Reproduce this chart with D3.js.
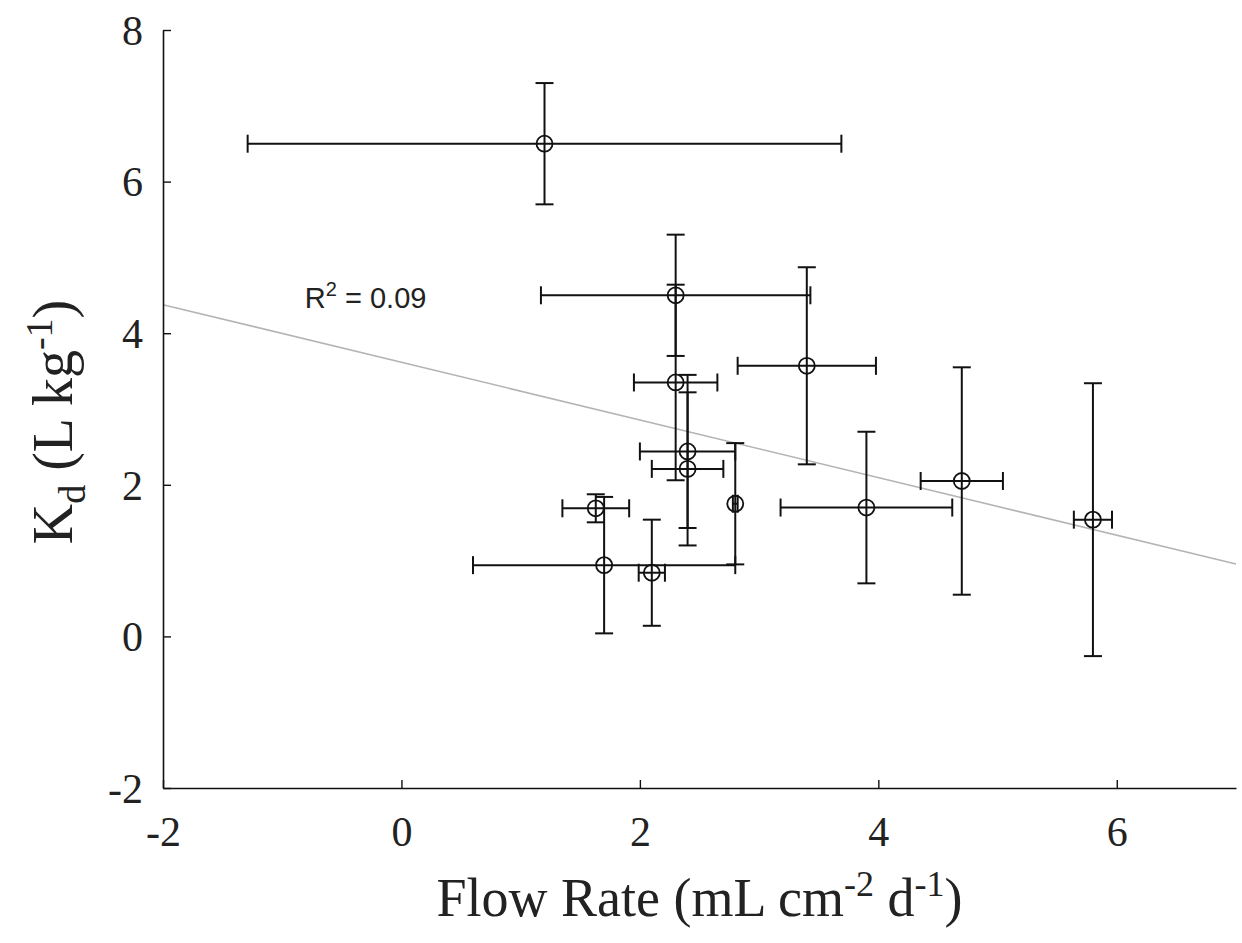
<!DOCTYPE html>
<html>
<head>
<meta charset="UTF-8">
<title>Kd vs Flow Rate</title>
<script src="https://cdn.jsdelivr.net/npm/d3@7"></script>
<style>
  body { margin: 0; background: #fff; }
  .tick text { font-family: "Liberation Serif", "Times New Roman", serif; }
</style>
</head>
<body>
<script>
// flow rate (x), Kd (y) and their error half-widths
var flow    = [1.2, 2.3, 3.4, 2.3, 2.4, 2.4, 1.7, 2.8, 1.63, 2.1, 3.9, 4.7, 5.8];
var kd      = [6.5, 4.5, 3.57, 3.35, 2.44, 2.21, 0.94, 1.75, 1.69, 0.84, 1.7, 2.05, 1.54];
var flowErr = [2.49, 1.13, 0.58, 0.35, 0.4, 0.3, 1.1, 0.02, 0.28, 0.11, 0.72, 0.345, 0.16];
var kdErr   = [0.8, 0.8, 1.3, 1.29, 1.01, 1.01, 0.9, 0.8, 0.185, 0.7, 1.0, 1.5, 1.8];
var xTicks  = [-2, 0, 2, 4, 6];
var yTicks  = [-2, 0, 2, 4, 6, 8];
var r2Label = '0.09';

var W = 1242, H = 943,
    margin = {top: 30, right: 6, bottom: 155, left: 163},
    width = W - margin.left - margin.right,
    height = H - margin.top - margin.bottom,
    cap = 9;

var svg = d3.select('body').append('svg')
  .attr('width', W)
  .attr('height', H);

var g = svg.append('g')
  .attr('transform', 'translate(' + margin.left + ',' + margin.top + ')');

var x = d3.scaleLinear().domain([-2, 7]).range([0, width]);
var y = d3.scaleLinear().domain([-2, 8]).range([height, 0]);

var data = flow.map(function(d, i) {
  return {x: d, y: kd[i], ex: flowErr[i], ey: kdErr[i]};
});

// least squares fit for the grey line
var mx = d3.mean(flow), my = d3.mean(kd);
var sxy = d3.sum(data, function(d) { return (d.x - mx) * (d.y - my); });
var sxx = d3.sum(data, function(d) { return (d.x - mx) * (d.x - mx); });
var slope = sxy / sxx, icpt = my - slope * mx;

g.append('line')
  .attr('x1', x(-2)).attr('y1', y(icpt + slope * -2))
  .attr('x2', x(7)).attr('y2', y(icpt + slope * 7))
  .attr('stroke', '#b4b4b4')
  .attr('stroke-width', 1.6);

// axes (ticks point inward, no top/right box), plain hyphen for minus
var fmt = function(d) { return String(d); };
var xAxis = g.append('g')
  .attr('transform', 'translate(0,' + height + ')')
  .call(d3.axisBottom(x).tickValues(xTicks).tickFormat(fmt).tickSizeInner(-8).tickSizeOuter(0).tickPadding(20));
var yAxis = g.append('g')
  .call(d3.axisLeft(y).tickValues(yTicks).tickFormat(fmt).tickSizeInner(-8).tickSizeOuter(0).tickPadding(20));

[xAxis, yAxis].forEach(function(a) {
  a.select('.domain').attr('stroke', '#111').attr('stroke-width', 1.6);
  a.selectAll('.tick line').attr('stroke', '#111').attr('stroke-width', 1.4);
  a.selectAll('.tick text').attr('font-size', 42).attr('fill', '#222');
});
xAxis.selectAll('.tick text').attr('dy', '0.9em');
yAxis.selectAll('.tick text').attr('dy', '0.34em');

// error bars
var bars = g.append('g').attr('stroke', '#111').attr('stroke-width', 2).attr('fill', 'none');
var eb = bars.selectAll('g').data(data).enter().append('g');

eb.append('line')
  .attr('x1', function(d) { return x(d.x - d.ex); })
  .attr('x2', function(d) { return x(d.x + d.ex); })
  .attr('y1', function(d) { return y(d.y); })
  .attr('y2', function(d) { return y(d.y); });
eb.append('line')
  .attr('x1', function(d) { return x(d.x - d.ex); })
  .attr('x2', function(d) { return x(d.x - d.ex); })
  .attr('y1', function(d) { return y(d.y) - cap; })
  .attr('y2', function(d) { return y(d.y) + cap; });
eb.append('line')
  .attr('x1', function(d) { return x(d.x + d.ex); })
  .attr('x2', function(d) { return x(d.x + d.ex); })
  .attr('y1', function(d) { return y(d.y) - cap; })
  .attr('y2', function(d) { return y(d.y) + cap; });

eb.append('line')
  .attr('x1', function(d) { return x(d.x); })
  .attr('x2', function(d) { return x(d.x); })
  .attr('y1', function(d) { return y(d.y - d.ey); })
  .attr('y2', function(d) { return y(d.y + d.ey); });
eb.append('line')
  .attr('x1', function(d) { return x(d.x) - cap; })
  .attr('x2', function(d) { return x(d.x) + cap; })
  .attr('y1', function(d) { return y(d.y + d.ey); })
  .attr('y2', function(d) { return y(d.y + d.ey); });
eb.append('line')
  .attr('x1', function(d) { return x(d.x) - cap; })
  .attr('x2', function(d) { return x(d.x) + cap; })
  .attr('y1', function(d) { return y(d.y - d.ey); })
  .attr('y2', function(d) { return y(d.y - d.ey); });

// open circle markers
g.append('g').selectAll('circle')
  .data(data)
  .enter()
  .append('circle')
  .attr('cx', function(d) { return x(d.x); })
  .attr('cy', function(d) { return y(d.y); })
  .attr('r', 8)
  .attr('fill', 'none')
  .attr('stroke', '#111')
  .attr('stroke-width', 1.8);

// R^2 annotation
var r2 = g.append('text')
  .attr('x', x(-0.81))
  .attr('y', y(4.33))
  .attr('font-family', '"Liberation Sans", Arial, sans-serif')
  .attr('font-size', 29)
  .attr('fill', '#222');
r2.append('tspan').text('R');
r2.append('tspan').attr('dy', -12).attr('font-size', 20).text('2');
r2.append('tspan').attr('dy', 12).text(' = ' + r2Label);

// axis titles
var xl = svg.append('text')
  .attr('x', margin.left + width / 2)
  .attr('y', 916)
  .attr('text-anchor', 'middle')
  .attr('font-family', '"Liberation Serif", "Times New Roman", serif')
  .attr('font-size', 54)
  .attr('fill', '#222');
xl.append('tspan').text('Flow Rate (mL cm');
xl.append('tspan').attr('dy', -20).attr('font-size', 36).text('-2');
xl.append('tspan').attr('dy', 20).text(' d');
xl.append('tspan').attr('dy', -20).attr('font-size', 36).text('-1');
xl.append('tspan').attr('dy', 20).text(')');

var yl = svg.append('text')
  .attr('transform', 'translate(72,' + (margin.top + height / 2 + 13) + ') rotate(-90)')
  .attr('text-anchor', 'middle')
  .attr('font-family', '"Liberation Serif", "Times New Roman", serif')
  .attr('font-size', 56)
  .attr('fill', '#222');
yl.append('tspan').text('K');
yl.append('tspan').attr('dy', 13).attr('font-size', 38).text('d');
yl.append('tspan').attr('dy', -13).text(' (L kg');
yl.append('tspan').attr('dy', -20).attr('font-size', 38).text('-1');
yl.append('tspan').attr('dy', 20).text(')');
</script>
</body>
</html>
